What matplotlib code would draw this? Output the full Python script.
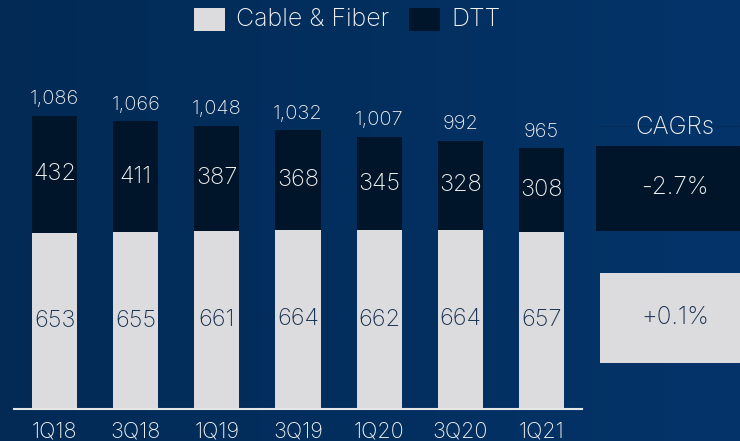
import matplotlib
matplotlib.use("Agg")
import matplotlib.pyplot as plt
import numpy as np
from matplotlib.patches import Rectangle
from matplotlib.colors import LinearSegmentedColormap

categories = ["1Q18", "3Q18", "1Q19", "3Q19", "1Q20", "3Q20", "1Q21"]
cable_fiber = [653, 655, 661, 664, 662, 664, 657]
dtt = [432, 411, 387, 368, 345, 328, 308]
totals = ["1,086", "1,066", "1,048", "1,032", "1,007", "992", "965"]
cagr_labels = ["CAGRs", "-2.7%", "+0.1%"]
legend_labels = ["Cable & Fiber", "DTT"]

LIGHT = "#dcdcde"
DARK = "#001529"
TXT = "#f2f2f2"
TXT_DARK = "#1b3352"
FONT = ["Inter", "DejaVu Sans"]
FW = "light"

W, H = 740, 441
fig = plt.figure(figsize=(W / 100, H / 100), dpi=100)

# background gradient
bg = fig.add_axes([0, 0, 1, 1], zorder=0)
grad = np.linspace(0, 1, 256).reshape(1, -1)
cmap = LinearSegmentedColormap.from_list("bg", ["#022a55", "#032f5f", "#04346a"])
bg.imshow(grad, aspect="auto", cmap=cmap, extent=[0, 1, 0, 1])
bg.set_axis_off()

def fx(px):
    return px / W

def fy(py):
    return 1 - py / H

# main axes
ax_left, ax_right = 14, 582
base_py = 409
ax = fig.add_axes([fx(ax_left), fy(base_py), fx(ax_right - ax_left), base_py / H], zorder=1)
ax.patch.set_alpha(0)
k = 0.27  # px per unit
ax.set_ylim(0, base_py / k)
ax.set_xlim(-0.5, 6.5)

x = np.arange(len(categories))
bw = 0.555
ax.bar(x, cable_fiber, width=bw, color=LIGHT, zorder=2)
ax.bar(x, dtt, width=bw, bottom=cable_fiber, color=DARK, zorder=2)

for i in range(len(categories)):
    ax.text(x[i], cable_fiber[i] / 2, str(cable_fiber[i]), ha="center", va="center",
            fontsize=17, color=TXT_DARK, family=FONT, fontweight=FW)
    ax.text(x[i], cable_fiber[i] + dtt[i] / 2, str(dtt[i]), ha="center", va="center",
            fontsize=17, color=TXT, family=FONT, fontweight=FW)
    ax.annotate(totals[i], (x[i], cable_fiber[i] + dtt[i]), xytext=(0, 12),
                textcoords="offset points", ha="center", va="center",
                fontsize=14.5, color=TXT, family=FONT, fontweight=FW)

for s in ["top", "right", "left"]:
    ax.spines[s].set_visible(False)
ax.spines["bottom"].set_color("#e6e6e6")
ax.spines["bottom"].set_linewidth(1.5)
ax.set_yticks([])
ax.set_xticks(x)
ax.set_xticklabels(categories, fontsize=15.5, color=TXT, family=FONT, fontweight=FW)
ax.tick_params(axis="x", length=0, pad=9)

# legend
leg_items = [(194, LIGHT, legend_labels[0], 236), (409, DARK, legend_labels[1], 451)]
for px, col, lab, tx in leg_items:
    fig.patches.append(Rectangle((fx(px), fy(31)), fx(31), 23 / H, transform=fig.transFigure,
                                 facecolor=col, edgecolor="none", zorder=3))
    fig.text(fx(tx), fy(20), lab, ha="left", va="center", fontsize=18, color=TXT,
             family=FONT, fontweight=FW, zorder=3)

# CAGR boxes
fig.add_artist(plt.Line2D([fx(600), fx(740)], [fy(126), fy(126)], color="#0b2442",
                          lw=1, alpha=0.35, transform=fig.transFigure, zorder=2))
fig.text(fx(675), fy(127), cagr_labels[0], ha="center", va="center", fontsize=17.5,
         color=TXT, family=FONT, fontweight=FW, zorder=3)
fig.patches.append(Rectangle((fx(596), fy(231)), fx(150), 85 / H, transform=fig.transFigure,
                             facecolor=DARK, edgecolor="none", zorder=2))
fig.text(fx(675), fy(188), cagr_labels[1], ha="center", va="center", fontsize=17.5,
         color=TXT, family=FONT, fontweight=FW, zorder=3)
fig.patches.append(Rectangle((fx(600), fy(363)), fx(150), 90 / H, transform=fig.transFigure,
                             facecolor=LIGHT, edgecolor="none", zorder=2))
fig.text(fx(675), fy(318), cagr_labels[2], ha="center", va="center", fontsize=17.5,
         color=TXT_DARK, family=FONT, fontweight=FW, zorder=3)

fig.savefig("out.png", dpi=100)
